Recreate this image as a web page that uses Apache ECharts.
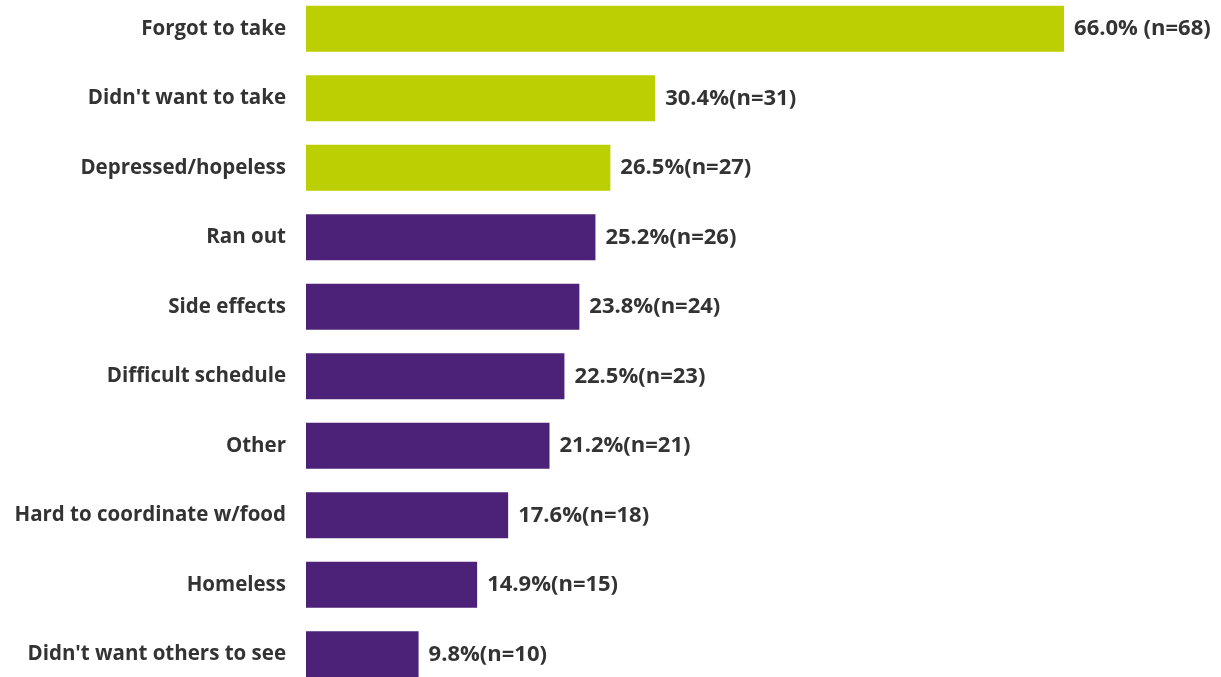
<!DOCTYPE html>
<html>
<head>
<meta charset="utf-8">
<script src="https://cdn.jsdelivr.net/npm/echarts@6/dist/echarts.min.js"></script>
<style>
  html, body { margin: 0; padding: 0; background: #ffffff; overflow: hidden; }
  #chart { position: absolute; left: 0; top: -6px; width: 1221px; height: 700px; }
</style>
</head>
<body>
<div id="chart"></div>
<script>
// Reasons for missed doses, top to bottom
const categories = [
  "Forgot to take",
  "Didn't want to take",
  "Depressed/hopeless",
  "Ran out",
  "Side effects",
  "Difficult schedule",
  "Other",
  "Hard to coordinate w/food",
  "Homeless",
  "Didn't want others to see"
];
const percents = [66.0, 30.4, 26.5, 25.2, 23.8, 22.5, 21.2, 17.6, 14.9, 9.8];
const counts = [68, 31, 27, 26, 24, 23, 21, 18, 15, 10];
// Rows highlighted in green; the rest are purple
const highlighted = [true, true, true, false, false, false, false, false, false, false];

const GREEN = '#bccf02';
const PURPLE = '#4b2278';
const TEXT = '#333333';
const FONT = '"Open Sans", "Noto Sans", sans-serif';

const chart = echarts.init(document.getElementById('chart'));

const data = percents.map((v, i) => ({
  value: v,
  itemStyle: { color: highlighted[i] ? GREEN : PURPLE }
}));

chart.setOption({
  animation: false,
  grid: { left: 306, top: 0, width: 804, height: 695, containLabel: false },
  xAxis: {
    type: 'value', min: 0, max: 70, show: false
  },
  yAxis: {
    type: 'category',
    inverse: true,
    data: categories,
    axisLine: { show: false },
    axisTick: { show: false },
    axisLabel: {
      margin: 20,
      color: TEXT,
      fontFamily: FONT,
      fontWeight: 'bold',
      fontSize: 20.5
    }
  },
  series: [{
    type: 'bar',
    data: data,
    barWidth: 46,
    label: {
      show: true,
      position: 'right',
      distance: 10,
      color: TEXT,
      fontFamily: FONT,
      fontWeight: 'bold',
      fontSize: 22,
      formatter: p => p.value.toFixed(1) + '%' + (p.dataIndex === 0 ? ' ' : '') + '(n=' + counts[p.dataIndex] + ')'
    }
  }]
});
</script>
</body>
</html>
